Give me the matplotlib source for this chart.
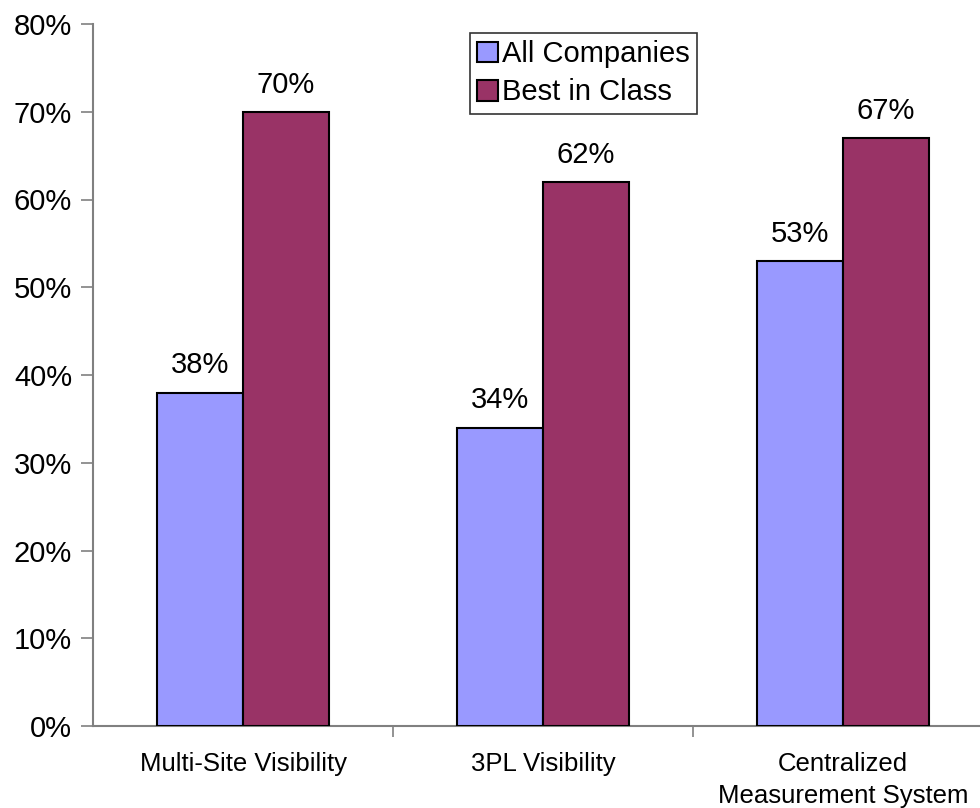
import matplotlib
matplotlib.use("Agg")
import matplotlib.pyplot as plt
import numpy as np

categories = ["Multi-Site Visibility", "3PL Visibility", "Centralized\nMeasurement System"]
series_names = ["All Companies", "Best in Class"]
all_companies = [38, 34, 53]
best_in_class = [70, 62, 67]
yticks = [0, 10, 20, 30, 40, 50, 60, 70, 80]

plt.rcParams["font.family"] = ["Liberation Sans", "DejaVu Sans"]

W, H = 980, 808
fig = plt.figure(figsize=(W / 100, H / 100), dpi=100)
ax = fig.add_axes([93 / W, 1 - 726 / H, 900 / W, (726 - 24) / H])

x = np.arange(len(categories))
bw = 0.287
colors = ["#9999FF", "#993366"]
for vals, off, col, name in [(all_companies, -bw / 2, colors[0], series_names[0]),
                             (best_in_class, bw / 2, colors[1], series_names[1])]:
    bars = ax.bar(x + off, vals, width=bw, color=col, edgecolor="black",
                  linewidth=1.5, label=name, zorder=3)
    for b, v in zip(bars, vals):
        ax.text(b.get_x() + b.get_width() / 2, v + 1.5, f"{v}%",
                ha="center", va="bottom", fontsize=21)

ax.set_xlim(-0.5, 2.5)
ax.set_ylim(0, 80)
ax.set_yticks(yticks)
ax.set_yticklabels([f"{t}%" for t in yticks], fontsize=21)
ax.set_xticks(x)
ax.set_xticklabels(categories, fontsize=18.5, linespacing=1.4)
ax.tick_params(axis="x", length=0, pad=19)
ax.set_xticks([0.5, 1.5], minor=True)
ax.tick_params(axis="x", which="minor", length=8, color="#808080", width=1.2)
ax.tick_params(axis="y", length=9, color="#808080", width=1.2, pad=6)

for s in ["top", "right"]:
    ax.spines[s].set_visible(False)
for s in ["left", "bottom"]:
    ax.spines[s].set_color("#808080")
    ax.spines[s].set_linewidth(1.5)

leg = ax.legend(loc="upper left", bbox_to_anchor=((470 - 93) / 900, (726 - 33) / 702),
                fontsize=21, frameon=True, fancybox=False, edgecolor="black",
                handlelength=0.7, handleheight=0.7, handletextpad=0.15,
                borderpad=0.25, labelspacing=0.35, borderaxespad=0)
leg.get_frame().set_linewidth(1.2)

fig.savefig("out.png", dpi=100)
